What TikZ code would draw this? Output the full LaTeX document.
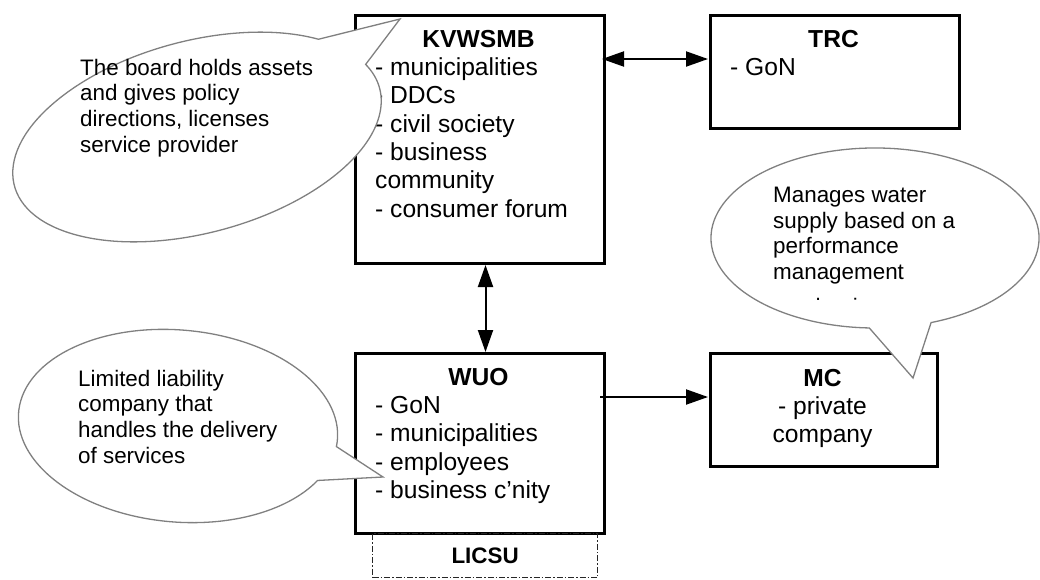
\documentclass[tikz,border=0pt]{standalone}
\usepackage{fontspec}
\setmainfont{Liberation Sans}
\usetikzlibrary{arrows.meta,calc}
\newcommand{\boxfont}{\fontsize{24.6}{28.3}\selectfont}
\newcommand{\callfont}{\fontsize{22.4}{25.7}\selectfont}
\newcommand{\mylines}[1]{\begin{tabular}[t]{@{}l@{}}#1\end{tabular}}
\newcommand{\mylinesc}[1]{\begin{tabular}[t]{@{}c@{}}#1\end{tabular}}
\begin{document}
\begin{tikzpicture}[x=1pt,y=1pt,
  box/.style={draw=black, line width=3pt, inner sep=0pt, anchor=north west},
  btitle/.style={font=\boxfont\bfseries, inner sep=0pt, anchor=base},
  btext/.style={font=\boxfont, inner sep=0pt},
  ctext/.style={font=\callfont, inner sep=0pt, anchor=base west},
  conn/.style={line width=2pt, -{Triangle[length=22pt,width=15pt]}},
  biconn/.style={line width=2pt, {Triangle[length=22pt,width=15pt]}-{Triangle[length=22pt,width=15pt]}},
  callout/.style={draw=gray, fill=white, line width=1.3pt, line join=miter},
  dashbox/.style={draw=black!85, line width=1.3pt, dash pattern=on 6pt off 2pt on 1.5pt off 2pt, inner sep=0pt, anchor=north west}]
\useasboundingbox (0,0) rectangle (1040,-579);

% boxes
\node[box, minimum width=249pt, minimum height=248pt] (kv) at (354,-14) {};
\node[btitle] (kvt) at (478.5,-47.5) {KVWSMB};
\node[btext, anchor=base west] (kvl) at (375,-75.5) {\mylines{- municipalities\\- DDCs\\- civil society\\- business\\community\\- consumer forum}};

\node[box, minimum width=249pt, minimum height=113pt] (trc) at (709,-14) {};
\node[btitle] (trct) at (833.5,-47.5) {TRC};
\node[btext, anchor=base west] (trcl) at (730,-75.5) {- GoN};

\node[box, minimum width=249pt, minimum height=180pt] (wuo) at (354,-352) {};
\node[btitle] (wuot) at (478.5,-385.5) {WUO};
\node[btext, anchor=base west] (wuol) at (375,-413.5) {\mylines{- GoN\\- municipalities\\- employees\\- business c'nity}};

\node[box, minimum width=227pt, minimum height=113pt] (mc) at (709,-352) {};
\node[btitle] (mct) at (822.5,-386) {MC};
\node[btext, anchor=base] (mcl) at (822.5,-414) {\mylinesc{- private\\company}};

\node[dashbox, minimum width=225pt, minimum height=44pt, font=\callfont\bfseries] (licsu) at (372,-533) {LICSU};

% connectors
\draw[biconn] ([xshift=-4pt,yshift=-45pt]kv.north east) -- ([xshift=-1pt,yshift=-45pt]trc.north west);
\draw[biconn] ([xshift=5.5pt]kv.south) -- ([xshift=5.5pt]wuo.north);
\draw[conn] ([xshift=-6pt,yshift=-45pt]wuo.north east) -- ([xshift=-1pt,yshift=-45pt]mc.north west);

% callouts
\coordinate (tip1) at (400,-19);
\begin{scope}[shift={(197,-137)}, rotate=15]
\draw[callout] (41:189 and 96) arc[start angle=41, end angle=376, x radius=189, y radius=96] -- (tip1) -- cycle;
\end{scope}
\coordinate (tip2) at (913,-378);
\begin{scope}[shift={(875,-238)}]
\draw[callout] (290:164 and 90) arc[start angle=290, end angle=628, x radius=164, y radius=90] -- (tip2) -- cycle;
\end{scope}
\coordinate (tip3) at (383,-477);
\begin{scope}[shift={(178,-426)}, rotate=-5]
\draw[callout] (-4:160 and 96) arc[start angle=-4, end angle=334, x radius=160, y radius=96] -- (tip3) -- cycle;
\end{scope}

\node[ctext] (c1t) at (80,-75) {\mylines{The board holds assets\\and gives policy\\directions, licenses\\service provider}};
\node[ctext] (c2t) at (773,-202.5) {\mylines{Manages water\\supply based on a\\performance\\management}};
\begin{scope}
\clip (760,-295) rectangle (900,-299.5);
\node[ctext] (c2x) at (773,-314.5) {mechanism};
\end{scope}
\node[ctext] (c3t) at (78,-386) {\mylines{Limited liability\\company that\\handles the delivery\\of services}};
\end{tikzpicture}
\end{document}
